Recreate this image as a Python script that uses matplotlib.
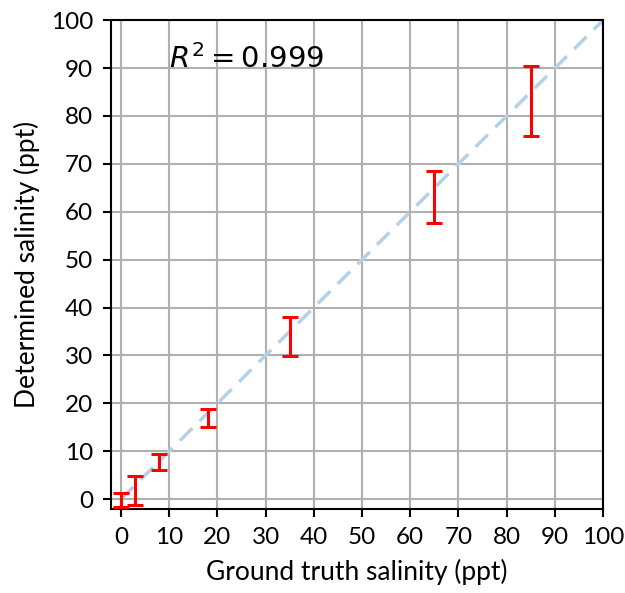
import matplotlib
matplotlib.use("Agg")
import matplotlib.pyplot as plt

truth = [0, 3, 8, 18, 35, 65, 85]
determined = [-0.2, 1.8, 7.8, 16.9, 34.0, 63.1, 83.2]
err = [1.4, 3.0, 1.6, 1.9, 4.1, 5.5, 7.3]
ticks = [0, 10, 20, 30, 40, 50, 60, 70, 80, 90, 100]

plt.rcParams['font.family'] = ['Lato', 'DejaVu Sans']

fig = plt.figure(figsize=(6.25, 5.93), dpi=100)
ax = fig.add_axes([0.178, 0.142, 0.787, 0.824])

ax.plot([0, 100], [0, 100], '--', color='#b3d1e8', lw=2.5, dashes=(5, 3), zorder=2)
ax.errorbar(truth, determined, yerr=err, fmt='none', ecolor='red',
            elinewidth=2.2, capsize=6, capthick=2.2, zorder=3)

ax.set_xlim(-2, 100)
ax.set_ylim(-2, 100)
ax.set_xticks(ticks)
ax.set_yticks(ticks)
ax.tick_params(labelsize=17.5, length=6, width=1.5, pad=7)
ax.grid(True, color='#b0b0b0', lw=1.5)
ax.set_axisbelow(True)
for s in ax.spines.values():
    s.set_linewidth(1.5)

ax.set_xlabel("Ground truth salinity (ppt)", fontsize=19, labelpad=8)
ax.set_ylabel("Determined salinity (ppt)", fontsize=19, labelpad=8)
ax.text(10, 90, r"$R^2 = 0.999$", fontsize=21, family='DejaVu Sans', va='baseline')

fig.savefig("out.png", dpi=100)
